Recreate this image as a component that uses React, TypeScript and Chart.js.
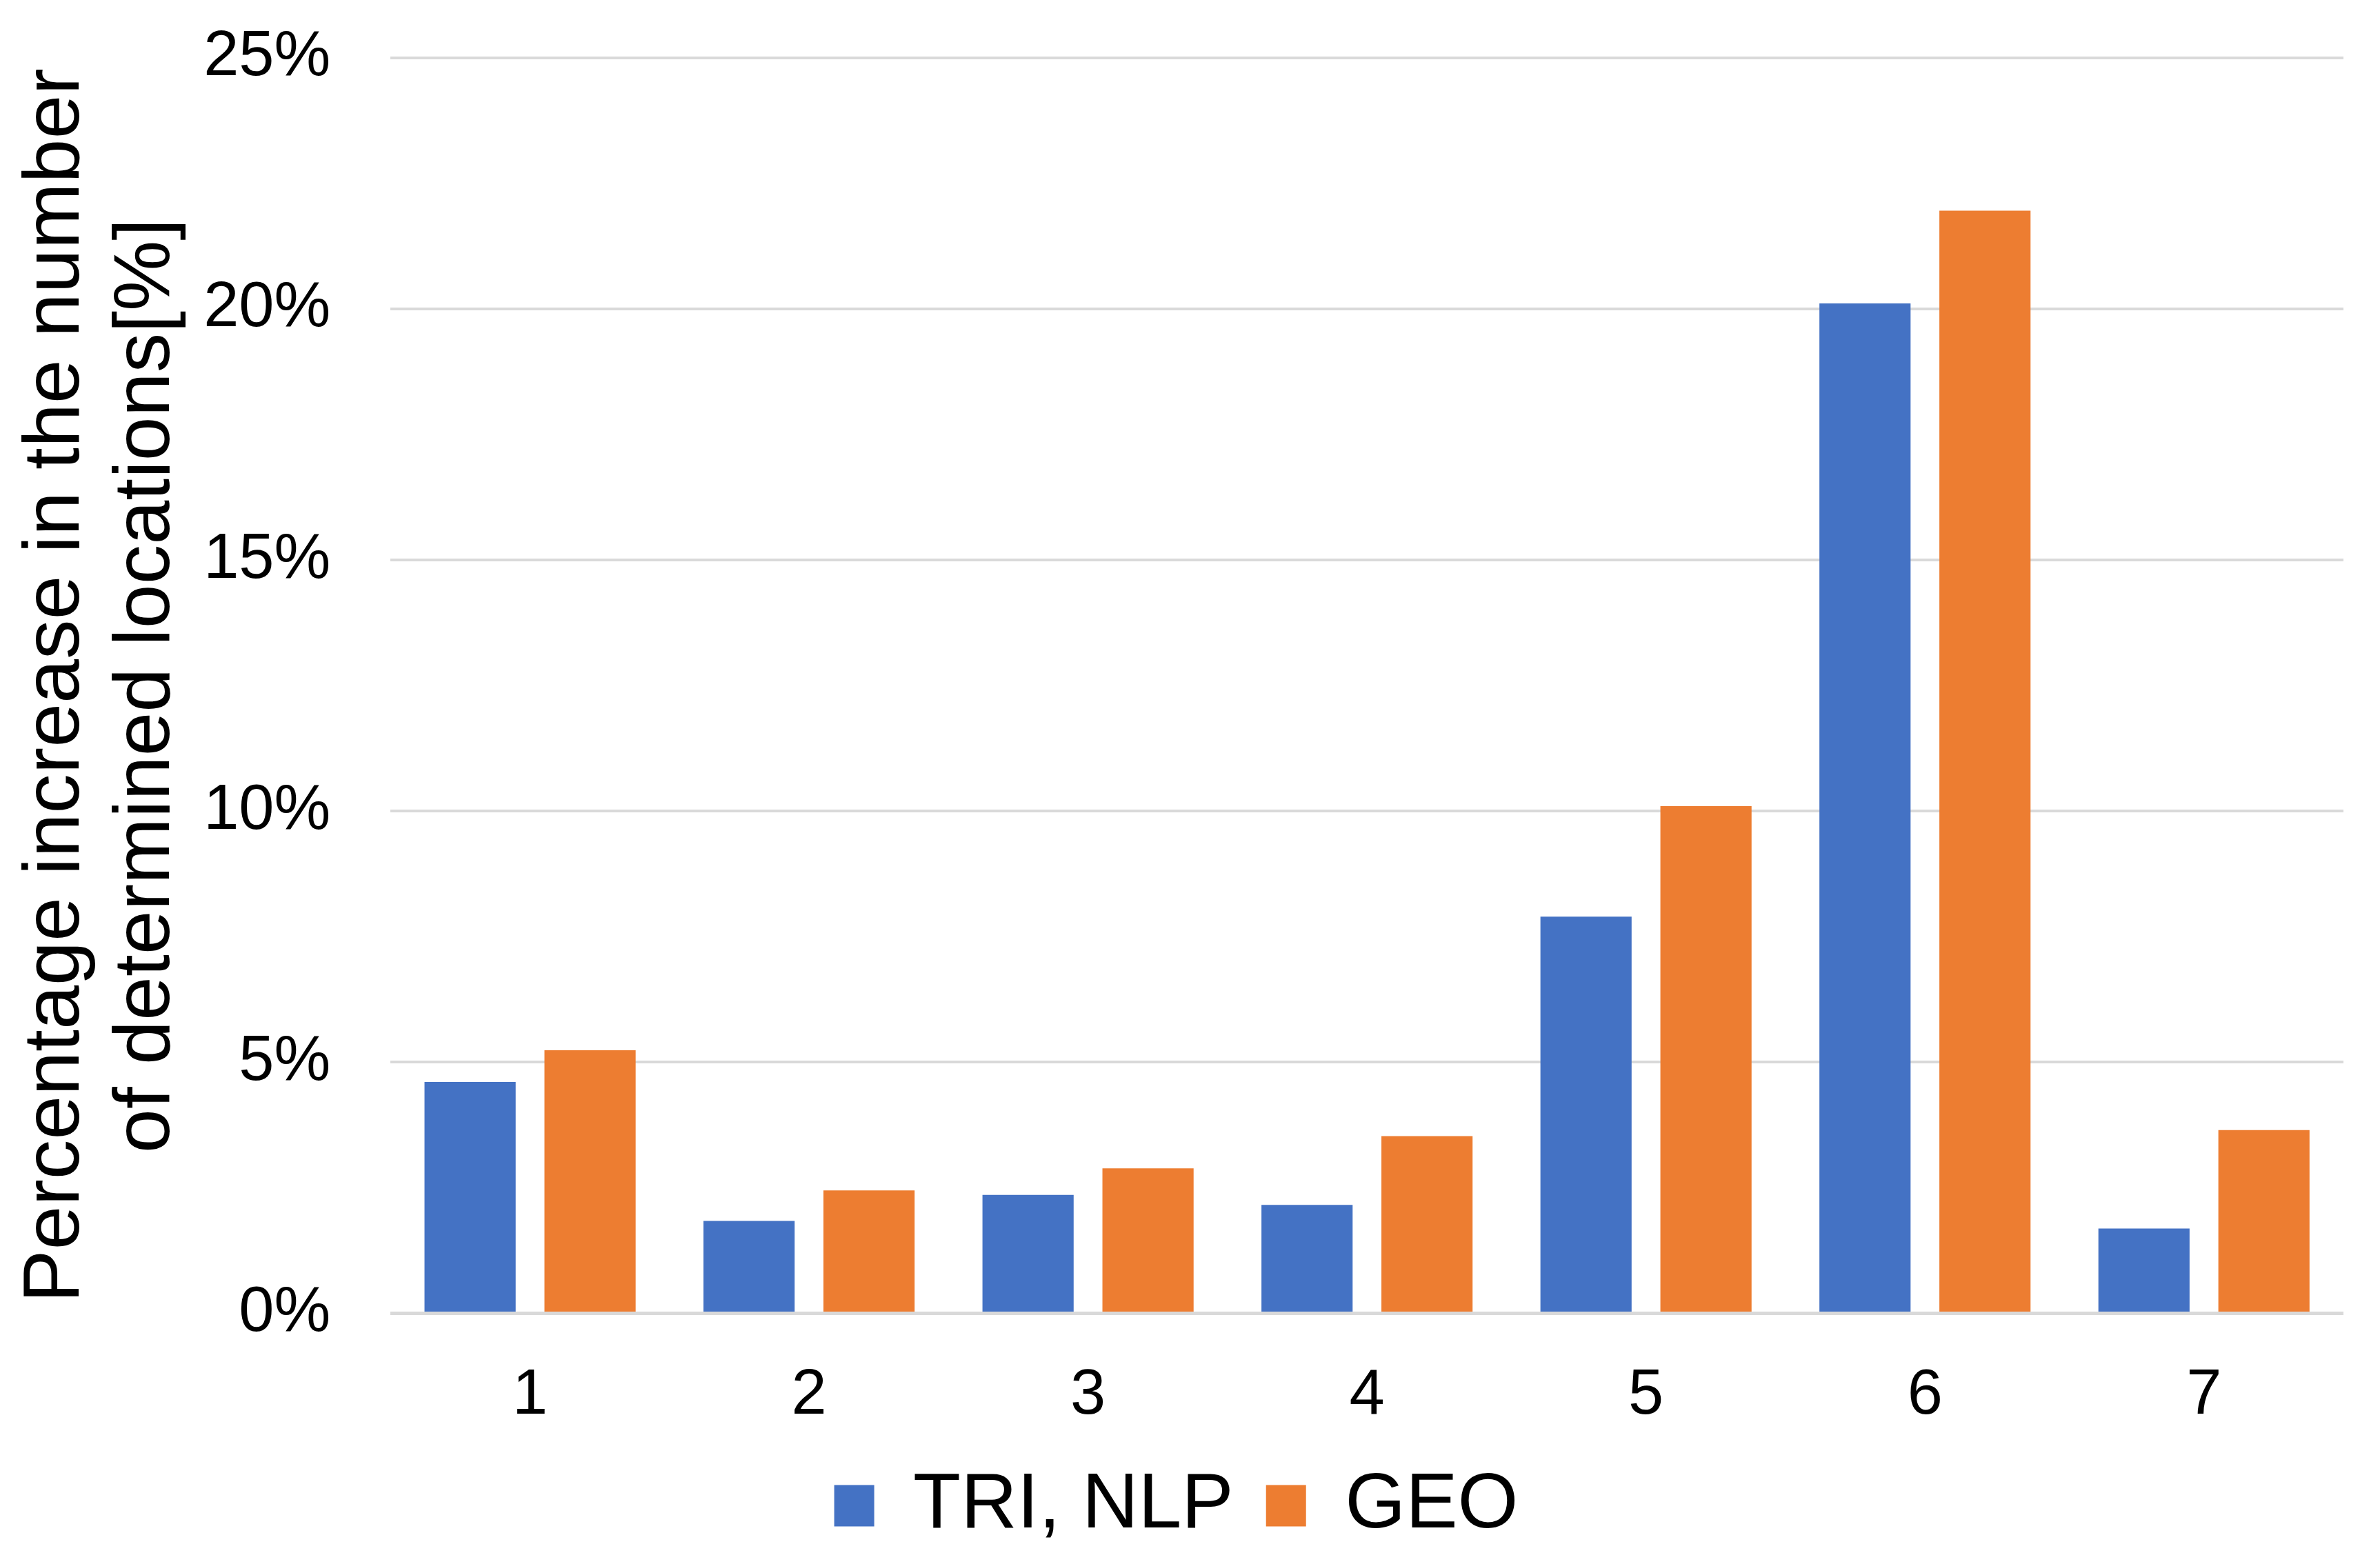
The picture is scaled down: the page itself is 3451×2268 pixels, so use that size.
import React, { useEffect, useRef } from "react";
import { Chart, registerables } from "chart.js";

Chart.register(...registerables);

const categories = ["1", "2", "3", "4", "5", "6", "7"];
const seriesNames = ["TRI, NLP", "GEO"];
const triNlpValues = [4.61, 1.84, 2.36, 2.16, 7.9, 20.11, 1.69];
const geoValues = [5.24, 2.45, 2.89, 3.53, 10.1, 21.96, 3.65];
const yTitleLines = ["Percentage increase in the number", "of determined locations[%]"];
const yMin = 0;
const yMax = 25;
const yStep = 5;

const FONT = "'Liberation Sans', Arial, Helvetica, sans-serif";
const X_TICK_PAD = 57;

export default function App() {
  const canvasRef = useRef<HTMLCanvasElement | null>(null);

  useEffect(() => {
    if (!canvasRef.current) return;
    Chart.defaults.font.family = FONT;
    Chart.defaults.color = "#000";
    const chart = new Chart(canvasRef.current, {
      type: "bar",
      data: {
        labels: categories,
        datasets: [
          {
            label: seriesNames[0],
            data: triNlpValues,
            backgroundColor: "#4472C4",
            borderWidth: 0,
            categoryPercentage: 0.86,
            barPercentage: 0.76,
          },
          {
            label: seriesNames[1],
            data: geoValues,
            backgroundColor: "#ED7D31",
            borderWidth: 0,
            categoryPercentage: 0.86,
            barPercentage: 0.76,
          },
        ],
      },
      options: {
        animation: false,
        responsive: true,
        maintainAspectRatio: false,
        layout: { padding: { left: 13, top: 84, right: 53, bottom: 18 } },
        plugins: {
          legend: {
            position: "bottom",
            labels: {
              font: { size: 113, family: FONT },
              color: "#000",
              boxWidth: 58,
              boxHeight: 60,
              padding: 47,
            },
          },
          tooltip: { enabled: false },
        },
        scales: {
          x: {
            grid: { display: false },
            border: { display: false },
            ticks: { font: { size: 92, family: FONT }, color: "#000", padding: X_TICK_PAD },
            afterFit: (s: any) => {
              s.height -= X_TICK_PAD;
            },
          },
          y: {
            min: yMin,
            max: yMax,
            ticks: {
              stepSize: yStep,
              callback: (v: any) => v + "%",
              font: { size: 92, family: FONT },
              color: "#000",
              padding: 0,
            },
            grid: {
              color: "#d9d9d9",
              lineWidth: (ctx: any) => (ctx.tick && ctx.tick.value === 0 ? 5 : 4),
              drawTicks: true,
              tickLength: 87,
              tickColor: "rgba(0,0,0,0)",
            },
            border: { display: false },
            title: {
              display: true,
              text: yTitleLines,
              font: { size: 115, lineHeight: 1.14, family: FONT },
              color: "#000",
              padding: { top: 4, bottom: 16 },
            },
          },
        },
      },
    });
    return () => chart.destroy();
  }, []);

  return (
    <div
      style={{
        position: "fixed",
        left: 0,
        top: 0,
        width: "3451px",
        height: "2268px",
        background: "#fff",
      }}
    >
      <canvas ref={canvasRef} />
    </div>
  );
}
